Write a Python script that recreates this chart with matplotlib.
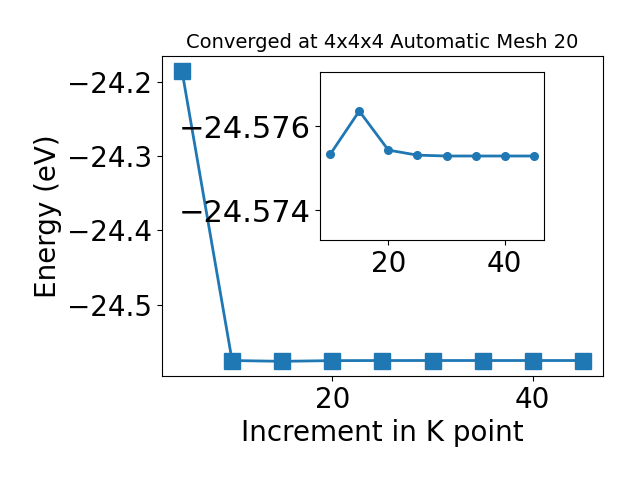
import matplotlib
matplotlib.use('Agg')
import matplotlib.pyplot as plt

kpoints = [5, 10, 15, 20, 25, 30, 35, 40, 45]
energy = [-24.1850, -24.57533, -24.57636, -24.57543, -24.57531,
          -24.57529, -24.57529, -24.57529, -24.57529]

plt.rcParams['font.size'] = 20

fig = plt.figure(figsize=(6.4, 4.8), dpi=100)
ax = fig.add_axes([0.253, 0.217, 0.689, 0.666])
ax.plot(kpoints, energy, marker='s', markersize=11, linewidth=2, color='#1f77b4')
ax.set_xticks([20, 40])
ax.set_xlabel('Increment in K point')
ax.set_ylabel('Energy (eV)')
ax.set_title('Converged at 4x4x4 Automatic Mesh 20', fontsize=14)

# zoomed view of the converged part
ins = fig.add_axes([0.5, 0.5, 0.35, 0.35])
ins.plot(kpoints[1:], energy[1:], marker='o', markersize=5.5, linewidth=2, color='#1f77b4')
ins.set_ylim(-24.57329, -24.57729)
ins.set_yticks([-24.576, -24.574])
ins.ticklabel_format(axis='y', useOffset=False)
ins.tick_params(axis='y', labelsize=22)
ins.set_xticks([20, 40])

fig.savefig('out.png')
